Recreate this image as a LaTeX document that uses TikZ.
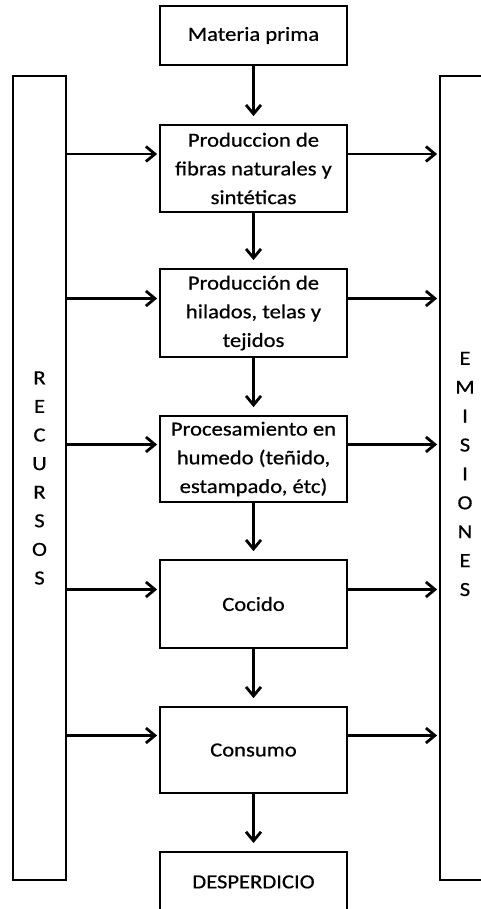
\documentclass[tikz,border=0pt]{standalone}
\usepackage{fontspec}
\setmainfont{Carlito}[FakeStretch=1.13,FakeBold=0.6]
\usetikzlibrary{arrows.meta}

\begin{document}
\begin{tikzpicture}[x=1pt,y=-1pt,>={Straight Barb[length=9pt,width=15pt]}]
    \tikzset{
        etapa/.style={
            draw,line width=1.8pt,inner sep=0pt,
            minimum width=187pt,align=center,
            font=\fontsize{20}{28.7}\selectfont
        },
        lateral/.style={
            draw,line width=1.8pt,inner sep=0pt,
            minimum width=53pt,minimum height=804pt,align=center,
            font=\fontsize{20}{28.6}\selectfont
        },
        flujo/.style={->,line width=2.8pt,shorten >=8pt},
        entrada/.style={->,line width=2.8pt,shorten >=2pt}
    }
    \useasboundingbox (0,0) rectangle (481,909);
    \clip (0,0) rectangle (481,909);

    \node[etapa,minimum height=59pt] (materia) at (253.5,35.5) {Materia prima};
    \node[etapa,minimum height=87pt] (fibras) at (253.5,168.5)
        {Produccion de\\fibras naturales y\\sintéticas};
    \node[etapa,minimum height=88pt] (hilados) at (253.5,313)
        {Producción de\\hilados, telas y\\tejidos};
    \node[etapa,minimum height=86pt] (humedo) at (253.5,459)
        {Procesamiento en\\humedo (teñido,\\estampado, étc)};
    \node[etapa,minimum height=88pt] (cocido) at (253.5,604) {Cocido};
    \node[etapa,minimum height=86pt] (consumo) at (253.5,750) {Consumo};
    \node[etapa,minimum height=60pt,anchor=north] (desperdicio) at (253.5,851)
        {DESPERDICIO};

    \node[lateral] (recursos) at (39.5,478) {R\\E\\C\\U\\R\\S\\O\\S};
    \node[lateral,minimum width=80pt] (emisiones) at (480,478) {};
    \node[align=center,font=\fontsize{20}{28.9}\selectfont] (emisionestxt)
        at (465,474) {E\\M\\I\\S\\I\\O\\N\\E\\S};

    \draw[flujo] (materia.south) -- (fibras.north);
    \draw[flujo] (fibras.south) -- (hilados.north);
    \draw[flujo] (hilados.south) -- (humedo.north);
    \draw[flujo] (humedo.south) -- (cocido.north);
    \draw[flujo] (cocido.south) -- (consumo.north);
    \draw[flujo] (consumo.south) -- (desperdicio.north);

    \foreach \etapa in {fibras,hilados,humedo,cocido,consumo} {
        \draw[entrada] ([yshift=14.5pt]\etapa.west -| recursos.east)
            -- ([yshift=14.5pt]\etapa.west);
        \draw[entrada] ([yshift=14.5pt]\etapa.east)
            -- ([yshift=14.5pt]\etapa.east -| emisiones.west);
    }
\end{tikzpicture}
\end{document}
